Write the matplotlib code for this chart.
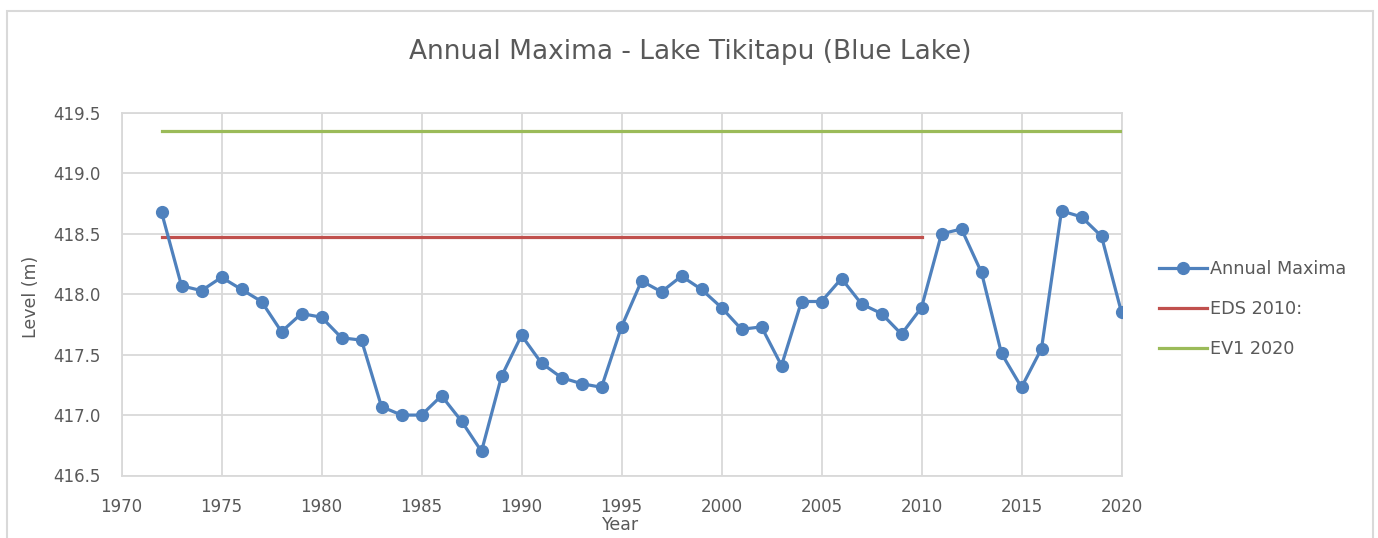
import matplotlib
matplotlib.use("Agg")
import matplotlib.pyplot as plt
from matplotlib.patches import Rectangle

years = list(range(1972, 2021))
annual_maxima = [418.68, 418.07,418.03,418.14,418.04,417.94,417.69,417.84, 417.81, 417.64,
                 417.62, 417.07, 417.00, 417.00, 417.16, 416.95, 416.70, 417.32, 417.66, 417.43,
                 417.31, 417.26, 417.23, 417.73, 418.11, 418.02, 418.15, 418.04, 417.89, 417.71,
                 417.73, 417.41, 417.94, 417.94, 418.13, 417.92, 417.84, 417.67, 417.89, 418.50,
                 418.54, 418.18, 417.51, 417.23, 417.55, 418.69, 418.64, 418.48, 417.85]
eds_years = [1972, 2010]
eds_values = [418.47, 418.47]
ev1_years = [1972, 2020]
ev1_values = [419.35, 419.35]

title = "Annual Maxima - Lake Tikitapu (Blue Lake)"
xticks = [1970, 1975, 1980, 1985, 1990, 1995, 2000, 2005, 2010, 2015, 2020]
yticks = [416.5, 417.0, 417.5, 418.0, 418.5, 419.0, 419.5]

plt.rcParams['font.family'] = ['DejaVu Sans']
W, H = 1378, 538
fig = plt.figure(figsize=(W / 100, H / 100), dpi=100)
fig.patch.set_facecolor('white')

# outer chart frame
fig.add_artist(Rectangle((7 / W, -0.05), (1373 - 7) / W, 1.05 - 11 / H,
                         transform=fig.transFigure, fill=False,
                         edgecolor='#D9D9D9', linewidth=1.5))

left, right, top, bottom = 121.5, 1121.5, 113, 475.5
ax = fig.add_axes([left / W, 1 - bottom / H, (right - left) / W, (bottom - top) / H])

grid_c = '#D9D9D9'
text_c = '#595959'

ax.plot(ev1_years, ev1_values, color='#9BBB59', linewidth=2.3, label='EV1 2020', zorder=3)
ax.plot(eds_years, eds_values, color='#C0504D', linewidth=2.3, label='EDS 2010:', zorder=3)
ax.plot(years, annual_maxima, color='#4F81BD', linewidth=2.3, marker='o', markersize=8.5,
        label='Annual Maxima', zorder=4)

ax.set_xlim(1970, 2020)
ax.set_ylim(416.5, 419.5)
ax.set_xticks(xticks)
ax.set_yticks(yticks)
ax.set_yticklabels([f"{v:.1f}" for v in yticks])
ax.grid(True, color=grid_c, linewidth=1.3, zorder=0)
ax.set_axisbelow(True)
for s in ax.spines.values():
    s.set_color(grid_c)
    s.set_linewidth(1.3)
ax.tick_params(axis='both', length=0, labelsize=12, labelcolor=text_c)
ax.tick_params(axis='y', pad=15)
ax.tick_params(axis='x', pad=16)

fig.text(690 / W, 1 - 52 / H, title, ha='center', va='center', fontsize=19, color=text_c)
fig.text(31 / W, 1 - 297 / H, 'Level (m)', ha='center', va='center', rotation=90,
         fontsize=12.5, color=text_c)
fig.text(621 / W, 1 - 525 / H, 'Year', ha='center', va='center', fontsize=12.5, color=text_c)

handles, labels = ax.get_legend_handles_labels()
order = [2, 1, 0]
leg = ax.legend([handles[i] for i in order], [labels[i] for i in order],
                loc='center left', bbox_to_anchor=(1159 / W, 1 - 309 / H),
                bbox_transform=fig.transFigure, frameon=False, fontsize=12.7,
                handlelength=2.7, handletextpad=0.2, labelspacing=1.25, borderaxespad=0,
                borderpad=0)
for t in leg.get_texts():
    t.set_color(text_c)

fig.savefig('out.png', dpi=100, facecolor='white')
